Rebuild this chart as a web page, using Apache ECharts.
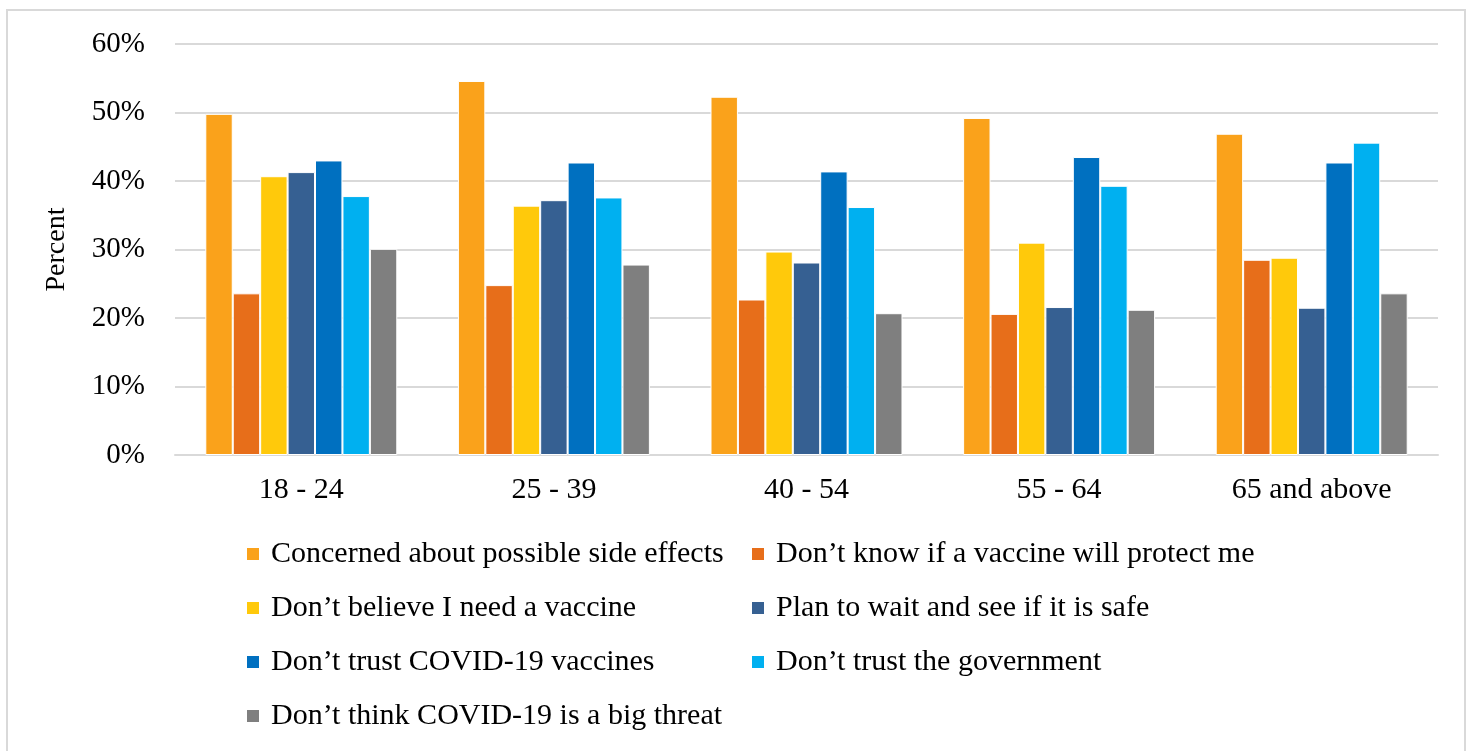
<!DOCTYPE html>
<html>
<head>
<meta charset="utf-8">
<script src="https://cdn.jsdelivr.net/npm/echarts@6/dist/echarts.min.js"></script>
<style>
  html, body { margin: 0; padding: 0; background: #fff; }
  #chart { width: 1471px; height: 751px; }
</style>
</head>
<body>
<div id="chart"></div>
<script>
const ageGroups = ['18 - 24', '25 - 39', '40 - 54', '55 - 64', '65 and above']
const seriesNames = [
    'Concerned about possible side effects',
    'Don\u2019t know if a vaccine will protect me',
    'Don\u2019t believe I need a vaccine',
    'Plan to wait and see if it is safe',
    'Don\u2019t trust COVID-19 vaccines',
    'Don\u2019t trust the government',
    'Don\u2019t think COVID-19 is a big threat'
]
const sideEffects = [49.8, 54.6, 52.3, 49.2, 46.9]
const notProtect = [23.6, 24.8, 22.7, 20.6, 28.5]
const noNeed = [40.7, 36.4, 29.7, 31.0, 28.8]
const waitAndSee = [41.3, 37.2, 28.1, 21.6, 21.5]
const noTrustVaccine = [43.0, 42.7, 41.4, 43.5, 42.7]
const noTrustGov = [37.8, 37.6, 36.2, 39.3, 45.6]
const noThreat = [30.1, 27.8, 20.7, 21.2, 23.6]
const yTicks = [0, 10, 20, 30, 40, 50, 60]

const values = [sideEffects, notProtect, noNeed, waitAndSee, noTrustVaccine, noTrustGov, noThreat]
const colors = ['#FAA21B', '#E76E1A', '#FFC90B', '#366092', '#0070C0', '#00B0F0', '#7F7F7F']
const font = '"Liberation Serif", "DejaVu Serif", serif'

const chart = echarts.init(document.getElementById('chart'))

// two legend columns, like the original layout
const legendBase = {
    orient: 'vertical',
    icon: 'rect',
    itemWidth: 14,
    itemHeight: 14,
    itemGap: 24,
    padding: 0,
    top: 539,
    textStyle: { fontFamily: font, fontSize: 30, color: '#000', padding: [0, 0, 0, 6] }
}

chart.setOption({
    animation: false,
    color: colors,
    graphic: [{
        type: 'rect',
        shape: { x: 7, y: 10, width: 1458, height: 770 },
        style: { fill: 'none', stroke: '#d9d9d9', lineWidth: 2 },
        silent: true
    }],
    grid: { left: 175, right: 33, top: 44, bottom: 296 },
    legend: [
        Object.assign({}, legendBase, { left: 245, data: [seriesNames[0], seriesNames[2], seriesNames[4], seriesNames[6]] }),
        Object.assign({}, legendBase, { left: 750, data: [seriesNames[1], seriesNames[3], seriesNames[5]] })
    ],
    xAxis: {
        type: 'category',
        data: ageGroups,
        axisTick: { show: false },
        axisLine: { lineStyle: { color: '#d9d9d9', width: 2 } },
        axisLabel: { fontFamily: font, fontSize: 30, color: '#000', margin: 20 }
    },
    yAxis: {
        type: 'value',
        min: yTicks[0],
        max: yTicks[yTicks.length - 1],
        interval: 10,
        name: 'Percent',
        nameLocation: 'middle',
        nameGap: 104,
        nameRotate: 90,
        nameTextStyle: { fontFamily: font, fontSize: 28, color: '#000' },
        axisLabel: { formatter: '{value}%', fontFamily: font, fontSize: 29, color: '#000', margin: 30 },
        splitLine: { lineStyle: { color: '#d9d9d9', width: 2 } },
        axisLine: { show: false },
        axisTick: { show: false }
    },
    series: seriesNames.map((name, i) => ({
        name: name,
        type: 'bar',
        data: values[i],
        barGap: '0%',
        barCategoryGap: '24%',
        itemStyle: { borderColor: '#fff', borderWidth: 1 }
    }))
})
</script>
</body>
</html>
